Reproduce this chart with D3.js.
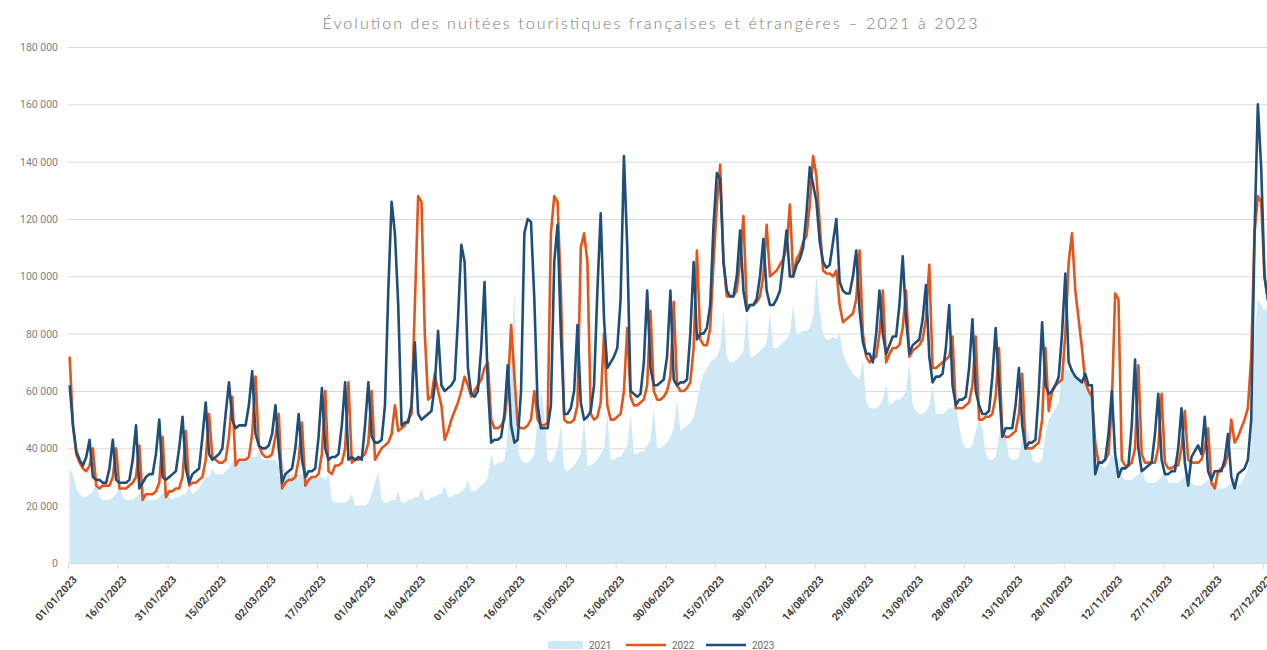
<!DOCTYPE html>
<html lang="fr">
<head>
<meta charset="UTF-8">
<title>Évolution des nuitées touristiques françaises et étrangères</title>
<script src="https://d3js.org/d3.v7.min.js"></script>
<style>
  body { margin: 0; padding: 0; background: #fff; }
  svg { display: block; }
  .y-axis text { font-family: Roboto, "Noto Sans", sans-serif; font-size: 10.5px; fill: #808080; }
  .x-axis text { font-family: Roboto, "Noto Sans", sans-serif; font-size: 10.5px; font-weight: bold; fill: #404040; }
  .legend text { font-family: Roboto, "Noto Sans", sans-serif; font-size: 10px; fill: #6b6b6b; }
</style>
</head>
<body>
<div id="chart"></div>
<script>
// nuitées en milliers, une valeur par jour (indice 0 = 1er janvier), 7 jours par ligne
const annee2021 = [
  33, 31, 26, 24, 23, 23, 24,
  25, 28, 23, 22, 22, 22, 23,
  24, 28, 23, 22, 22, 22, 23,
  24, 27, 22, 22, 22, 22, 23,
  24, 28, 23, 22, 23, 23, 24,
  24, 27, 24, 25, 26, 28, 30,
  30, 33, 31, 31, 31, 32, 33,
  35, 38, 36, 36, 36, 37, 37,
  37, 39, 36, 36, 36, 36, 36,
  34, 36, 32, 31, 31, 31, 31,
  31, 33, 30, 30, 30, 30, 30,
  29, 31, 22, 21, 21, 21, 21,
  22, 24, 20, 20, 20, 20, 21,
  24, 28, 32, 22, 21, 21, 22,
  22, 25, 21, 21, 22, 22, 23,
  23, 26, 22, 22, 23, 23, 24,
  24, 27, 23, 23, 24, 24, 25,
  26, 29, 25, 25, 26, 27, 28,
  30, 38, 34, 35, 35, 36, 45,
  70, 95, 40, 36, 35, 35, 36,
  38, 50, 60, 52, 36, 35, 37,
  40, 48, 33, 32, 33, 34, 36,
  38, 50, 34, 34, 35, 36, 38,
  40, 52, 36, 36, 37, 37, 39,
  41, 52, 38, 38, 39, 39, 41,
  43, 54, 40, 40, 41, 42, 44,
  47, 57, 46, 47, 48, 49, 51,
  56, 62, 66, 68, 70, 71, 72,
  75, 88, 72, 70, 70, 71, 72,
  74, 87, 72, 72, 73, 74, 75,
  77, 87, 75, 75, 76, 77, 78,
  80, 90, 80, 80, 81, 81, 82,
  86, 100, 88, 80, 78, 78, 79,
  78, 80, 73, 70, 68, 66, 65,
  64, 71, 56, 54, 54, 54, 55,
  57, 62, 55, 56, 57, 57, 58,
  60, 70, 55, 53, 52, 52, 53,
  55, 62, 52, 52, 52, 53, 54,
  54, 56, 48, 42, 40, 40, 41,
  46, 50, 47, 38, 36, 36, 37,
  44, 49, 46, 37, 36, 36, 37,
  44, 48, 45, 36, 35, 35, 36,
  45, 50, 52, 54, 56, 66, 68,
  67, 68, 66, 65, 64, 63, 62,
  55, 37, 35, 34, 33, 35, 38,
  36, 37, 30, 29, 29, 29, 30,
  31, 33, 29, 28, 28, 28, 29,
  30, 32, 28, 28, 28, 28, 29,
  30, 32, 28, 27, 27, 27, 28,
  29, 31, 27, 26, 26, 26, 27,
  28, 30, 27, 28, 30, 33, 40,
  80, 92, 90, 88, 90, 92, 95,
  100
];

const annee2022 = [
  72, 48, 38, 35, 33, 32, 34,
  40, 27, 26, 27, 27, 27, 30,
  40, 26, 26, 26, 27, 28, 30,
  41, 22, 24, 24, 24, 25, 28,
  44, 23, 25, 25, 26, 26, 30,
  46, 27, 28, 28, 29, 30, 36,
  52, 37, 36, 35, 35, 36, 44,
  58, 34, 36, 36, 36, 37, 45,
  65, 41, 38, 37, 37, 38, 44,
  52, 26, 28, 29, 29, 30, 36,
  49, 27, 29, 30, 30, 31, 38,
  60, 32, 31, 34, 34, 35, 40,
  63, 35, 36, 36, 37, 38, 42,
  60, 36, 38, 40, 41, 42, 45,
  55, 46, 47, 48, 50, 52, 90,
  128, 126, 80, 57, 58, 66, 60,
  55, 43, 46, 50, 53, 56, 60,
  65, 62, 58, 60, 62, 64, 68,
  70, 50, 47, 47, 48, 50, 60,
  83, 65, 48, 47, 47, 48, 50,
  60, 50, 48, 48, 49, 115, 128,
  126, 95, 50, 49, 49, 50, 55,
  110, 115, 105, 52, 50, 51, 56,
  80, 55, 50, 50, 51, 52, 60,
  82, 58, 55, 55, 56, 57, 62,
  88, 60, 57, 57, 58, 60, 65,
  91, 62, 60, 60, 61, 63, 75,
  109, 78, 76, 76, 82, 105, 125,
  139, 105, 93, 93, 93, 95, 105,
  121, 90, 90, 90, 91, 93, 100,
  118, 100, 101, 102, 104, 106, 110,
  125, 100, 106, 108, 112, 114, 125,
  142, 135, 118, 102, 101, 101, 100,
  102, 90, 84, 85, 86, 87, 92,
  109, 80, 72, 70, 71, 72, 80,
  95, 70, 73, 75, 75, 76, 82,
  95, 72, 74, 75, 76, 78, 85,
  104, 68, 68, 69, 70, 71, 72,
  79, 54, 54, 54, 55, 56, 62,
  79, 50, 50, 51, 51, 52, 58,
  75, 45, 44, 44, 45, 46, 52,
  66, 40, 40, 40, 41, 42, 50,
  75, 53, 60, 62, 63, 64, 80,
  105, 115, 95, 85, 75, 63, 60,
  58, 42, 35, 35, 36, 38, 55,
  94, 92, 36, 34, 34, 35, 40,
  69, 38, 35, 35, 35, 35, 40,
  59, 35, 33, 33, 34, 34, 40,
  53, 36, 35, 35, 35, 36, 40,
  47, 28, 26, 32, 33, 34, 38,
  50, 42, 44, 47, 50, 54, 72,
  115, 128, 126, 100, 92, 90, 88,
  85
];

const annee2023 = [
  62, 48, 39, 36, 34, 37, 43,
  30, 29, 29, 28, 28, 33, 43,
  29, 28, 28, 28, 29, 36, 48,
  26, 28, 30, 31, 31, 38, 50,
  30, 29, 30, 31, 32, 40, 51,
  33, 28, 31, 32, 33, 44, 56,
  38, 36, 37, 38, 40, 52, 63,
  50, 47, 48, 48, 48, 55, 67,
  45, 41, 40, 40, 41, 45, 55,
  40, 28, 31, 32, 33, 40, 52,
  36, 30, 32, 32, 33, 44, 61,
  40, 36, 37, 37, 38, 48, 63,
  36, 37, 36, 37, 36, 48, 63,
  44, 42, 42, 43, 55, 95, 126,
  115, 90, 48, 49, 49, 55, 77,
  52, 50, 51, 52, 53, 62, 81,
  62, 60, 61, 62, 64, 85, 111,
  105, 68, 59, 58, 60, 75, 98,
  62, 42, 43, 43, 44, 52, 69,
  48, 42, 43, 60, 115, 120, 119,
  92, 55, 47, 47, 47, 55, 105,
  118, 80, 52, 52, 54, 60, 83,
  56, 50, 51, 53, 62, 95, 122,
  85, 68, 70, 72, 75, 92, 142,
  110, 60, 59, 58, 59, 70, 95,
  68, 62, 62, 63, 64, 72, 95,
  64, 62, 63, 63, 64, 80, 105,
  78, 80, 80, 82, 90, 118, 136,
  134, 105, 95, 93, 93, 100, 116,
  95, 88, 90, 90, 92, 100, 113,
  95, 90, 90, 92, 95, 105, 116,
  100, 100, 104, 106, 110, 122, 138,
  132, 126, 112, 105, 103, 104, 112,
  120, 98, 95, 94, 94, 100, 109,
  88, 77, 73, 73, 70, 80, 95,
  80, 73, 76, 79, 79, 90, 107,
  85, 73, 76, 77, 78, 85, 97,
  72, 63, 65, 65, 66, 75, 90,
  62, 55, 57, 57, 58, 68, 85,
  60, 55, 52, 52, 53, 65, 82,
  62, 44, 47, 47, 47, 55, 68,
  48, 40, 42, 42, 43, 60, 84,
  62, 59, 60, 62, 65, 80, 101,
  70, 67, 65, 64, 63, 66, 62,
  62, 31, 35, 35, 36, 45, 60,
  38, 30, 33, 33, 34, 48, 71,
  40, 32, 33, 34, 35, 45, 59,
  36, 31, 31, 32, 32, 40, 54,
  35, 27, 37, 39, 41, 38, 51,
  32, 29, 32, 32, 32, 36, 45,
  30, 26, 31, 32, 33, 36, 50,
  115, 160, 138, 100, 92, 95, 105,
  110
];

const tickDays = [0, 15, 30, 45, 60, 75, 90, 105, 120, 135, 150, 165, 180, 195, 210, 225, 240, 255, 270, 285, 300, 315, 330, 345, 360];
const tickLabels = ["01/01/2023", "16/01/2023", "31/01/2023", "15/02/2023", "02/03/2023", "17/03/2023", "01/04/2023", "16/04/2023", "01/05/2023", "16/05/2023", "31/05/2023", "15/06/2023", "30/06/2023", "15/07/2023", "30/07/2023", "14/08/2023", "29/08/2023", "13/09/2023", "28/09/2023", "13/10/2023", "28/10/2023", "12/11/2023", "27/11/2023", "12/12/2023", "27/12/2023"];
const yTicks = [0, 20, 40, 60, 80, 100, 120, 140, 160, 180];
const seriesNames = ["2021", "2022", "2023"];

const width = 1267;
const height = 650;
const left = 68;
const colorArea = "#cfe8f5";
const colorOrange = "#e2561c";
const colorBlue = "#1f4e79";

const svg = d3.select("#chart").append("svg")
  .attr("width", width)
  .attr("height", height);

const x = d3.scaleLinear().domain([0, 365]).range([left, left + 365 * 3.319]);
const y = d3.scaleLinear().domain([0, 180]).range([563, 47]);

const fr = d3.formatLocale({ decimal: ",", thousands: " ", grouping: [3], currency: ["", " €"] });
const fmt = fr.format(",");

// titre
svg.append("text")
  .attr("x", 650)
  .attr("y", 29)
  .attr("text-anchor", "middle")
  .attr("textLength", 655)
  .attr("lengthAdjust", "spacing")
  .style("font-family", "Lato, 'Open Sans', sans-serif")
  .style("font-weight", 300)
  .style("font-size", "16px")
  .style("fill", "#7a7a7a")
  .text("Évolution des nuitées touristiques françaises et étrangères – 2021 à 2023");

// axe Y + quadrillage
const yAxis = svg.append("g")
  .attr("class", "y-axis")
  .attr("transform", `translate(${left},0)`)
  .call(d3.axisLeft(y).tickValues(yTicks).tickSize(-(width - left)).tickPadding(10)
    .tickFormat(d => fmt(d * 1000)));
yAxis.select(".domain").remove();
yAxis.selectAll("line").attr("stroke", "#d9d9d9").attr("stroke-width", 1);

// aire 2021
const area = d3.area()
  .x((d, i) => x(i + 0.5))
  .y0(y(0))
  .y1(d => y(d));

svg.append("path")
  .datum(annee2021)
  .attr("d", area)
  .attr("fill", colorArea);

const line = d3.line()
  .x((d, i) => x(i + 0.5))
  .y(d => y(d));

svg.append("path")
  .datum(annee2022)
  .attr("d", line)
  .attr("fill", "none")
  .attr("stroke", colorOrange)
  .attr("stroke-width", 2.6)
  .attr("stroke-linejoin", "round");

svg.append("path")
  .datum(annee2023)
  .attr("d", line)
  .attr("fill", "none")
  .attr("stroke", colorBlue)
  .attr("stroke-width", 2.6)
  .attr("stroke-linejoin", "round");

// axe X
const xAxis = svg.append("g")
  .attr("class", "x-axis")
  .attr("transform", `translate(0,${y(0)})`)
  .call(d3.axisBottom(x).tickValues(tickDays).tickSize(6)
    .tickFormat((d, i) => tickLabels[i]));
xAxis.select(".domain").attr("stroke", "#d9d9d9");
xAxis.selectAll("line").attr("stroke", "#d9d9d9");
xAxis.selectAll("text")
  .attr("text-anchor", "end")
  .attr("dy", null)
  .attr("y", 0)
  .attr("transform", "translate(9,17) rotate(-48)");

// légende
const legend = svg.append("g").attr("class", "legend");
const legendX = [548, 626, 706];
seriesNames.forEach((name, i) => {
  const g = legend.append("g").attr("transform", `translate(${legendX[i]},645)`);
  if (i === 0) {
    g.append("rect").attr("x", 0).attr("y", -4).attr("width", 35).attr("height", 8).attr("fill", colorArea);
  } else {
    g.append("line").attr("x1", 0).attr("x2", 40).attr("y1", 0).attr("y2", 0)
      .attr("stroke", i === 1 ? colorOrange : colorBlue).attr("stroke-width", 2.6);
  }
  g.append("text").attr("x", i === 0 ? 41 : 46).attr("y", 3.5).text(name);
});
</script>
</body>
</html>
